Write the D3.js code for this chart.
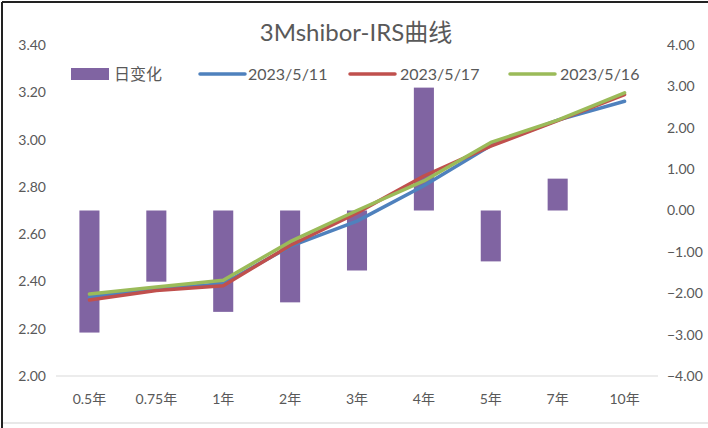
<!DOCTYPE html>
<html><head><meta charset="utf-8">
<script src="https://cdn.jsdelivr.net/npm/d3@7"></script>
<style>
html,body{margin:0;padding:0;background:#fff;}
text{font-family:"Lato","Noto Sans CJK SC",sans-serif;fill:#595959;}
</style></head>
<body><svg id="c" width="708" height="428"></svg>
<script>
const categories = ["0.5年","0.75年","1年","2年","3年","4年","5年","7年","10年"];
const dailyChange = [-2.95,-1.72,-2.45,-2.22,-1.45,2.97,-1.23,0.77,0];
const rate0511 = [2.334,2.368,2.390,2.548,2.655,2.805,2.975,3.082,3.162];
const rate0517 = [2.321,2.362,2.382,2.552,2.690,2.846,2.972,3.080,3.190];
const rate0516 = [2.347,2.376,2.405,2.568,2.700,2.825,2.988,3.082,3.198];
const leftTicks = [2.00,2.20,2.40,2.60,2.80,3.00,3.20,3.40];
const rightTicks = [-4,-3,-2,-1,0,1,2,3,4];
const seriesNames = ["日变化","2023/5/11","2023/5/17","2023/5/16"];
const colors = ["#8064A2","#4F81BD","#C0504D","#9BBB59"];

const svg = d3.select("#c");
// frame
svg.append("line").attr("x1",2).attr("y1",2).attr("x2",2).attr("y2",428).attr("stroke","#222").attr("stroke-width",2);
svg.append("line").attr("x1",2).attr("y1",2).attr("x2",708).attr("y2",2).attr("stroke","#222").attr("stroke-width",2);
svg.append("line").attr("x1",3).attr("y1",423).attr("x2",708).attr("y2",423).attr("stroke","#e0e0e0").attr("stroke-width",1.5);

const L=56,R=658,T=45,B=376;
const x = d3.scaleBand().domain(categories).range([L,R]);
const yL = d3.scaleLinear().domain([2.0,3.4]).range([B,T]);
const yR = d3.scaleLinear().domain([-4,4]).range([B,T]);

svg.append("text").attr("x",356).attr("y",41).attr("text-anchor","middle")
  .style("font-size","24px").text("3Mshibor-IRS曲线");

// baseline grid
svg.append("line").attr("x1",L).attr("x2",R).attr("y1",yL(2.0)).attr("y2",yL(2.0)).attr("stroke","#d9d9d9").attr("stroke-width",1);

// axes
const gl = svg.append("g").attr("transform",`translate(${L-10},0)`)
  .call(d3.axisLeft(yL).tickValues(leftTicks).tickFormat(d3.format(".2f")).tickSize(0).tickPadding(0));
const gr = svg.append("g").attr("transform",`translate(${R+9},0)`)
  .call(d3.axisRight(yR).tickValues(rightTicks).tickFormat(d3.format(".2f")).tickSize(0).tickPadding(0));
const gx = svg.append("g").attr("transform",`translate(0,${B+10})`)
  .call(d3.axisBottom(x).tickSize(0).tickPadding(8));
[gl,gr,gx].forEach(g=>{g.select(".domain").remove();g.selectAll("text").style("font-size","14px").attr("fill","#595959");});

// bars
const bw = x.bandwidth()*0.3;
svg.append("g").selectAll("rect").data(categories).join("rect")
  .attr("x",(d)=>x(d)+x.bandwidth()/2-bw/2)
  .attr("width",bw)
  .attr("y",(d,i)=>yR(Math.max(0,dailyChange[i])))
  .attr("height",(d,i)=>Math.abs(yR(dailyChange[i])-yR(0)))
  .attr("fill",colors[0]);

// lines
const line = d3.line().x((d,i)=>x(categories[i])+x.bandwidth()/2).y(d=>yL(d));
[[rate0511,colors[1]],[rate0517,colors[2]],[rate0516,colors[3]]].forEach(([s,c])=>{
  svg.append("path").attr("d",line(s)).attr("fill","none").attr("stroke",c).attr("stroke-width",3.5).attr("stroke-linejoin","round").attr("stroke-linecap","round");
});

// legend
const ly = 74;
const lg = svg.append("g");
lg.append("rect").attr("x",71).attr("y",ly-6).attr("width",38).attr("height",12).attr("fill",colors[0]);
lg.append("text").attr("x",114).attr("y",ly+6).style("font-size","16px").text(seriesNames[0]);
const items = [[200,248],[350,400],[510,560]];
items.forEach(([lx,tx],k)=>{
  lg.append("line").attr("x1",lx).attr("x2",lx+45).attr("y1",ly).attr("y2",ly).attr("stroke",colors[k+1]).attr("stroke-width",3.5).attr("stroke-linecap","round");
  lg.append("text").attr("x",tx).attr("y",ly+6).style("font-size","16px").text(seriesNames[k+1]);
});
</script></body></html>
